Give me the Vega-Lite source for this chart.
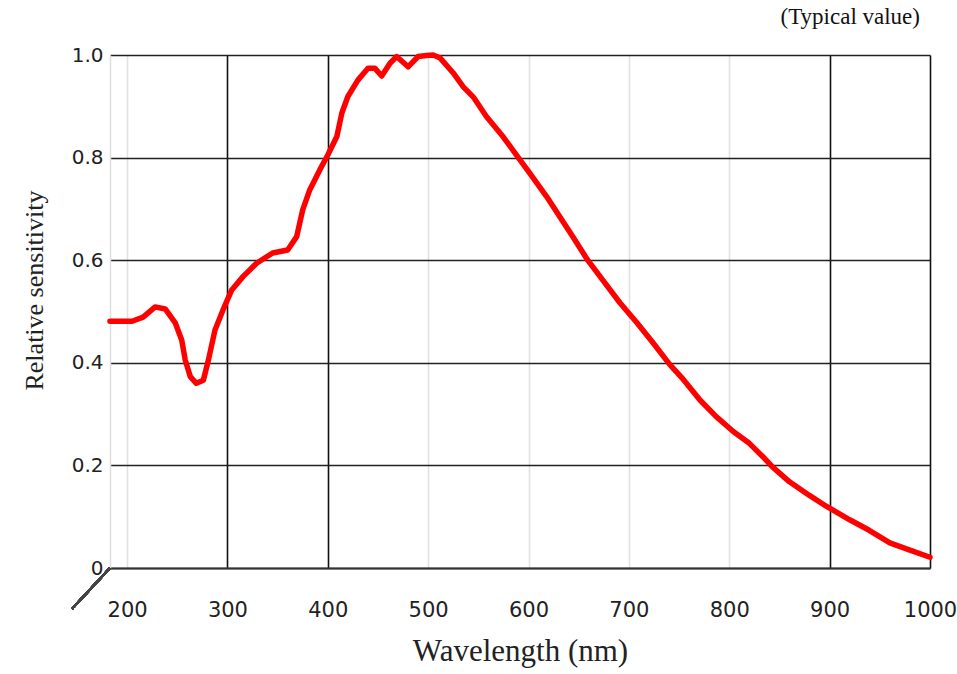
{
  "$schema": "https://vega.github.io/schema/vega-lite/v6.json",
  "width": 820,
  "height": 513,
  "autosize": {"type": "none"},
  "padding": {"left": 110, "top": 55, "right": 27, "bottom": 106},
  "background": "white",
  "config": {"view": {"stroke": null}},
  "title": {"text": "(Typical value)", "anchor": "end", "frame": "group", "font": "Liberation Serif", "fontSize": 23, "fontWeight": "normal", "color": "#111", "offset": 16, "dx": -10},
  "data": {"values": [
    {"wavelength": 183, "sensitivity": 0.481},
    {"wavelength": 195, "sensitivity": 0.481},
    {"wavelength": 205, "sensitivity": 0.481},
    {"wavelength": 216, "sensitivity": 0.489},
    {"wavelength": 228, "sensitivity": 0.509},
    {"wavelength": 238, "sensitivity": 0.505},
    {"wavelength": 248, "sensitivity": 0.478},
    {"wavelength": 254.5, "sensitivity": 0.444},
    {"wavelength": 258, "sensitivity": 0.405},
    {"wavelength": 263, "sensitivity": 0.373},
    {"wavelength": 269, "sensitivity": 0.36},
    {"wavelength": 276, "sensitivity": 0.366},
    {"wavelength": 281, "sensitivity": 0.405},
    {"wavelength": 287.6, "sensitivity": 0.464},
    {"wavelength": 295.6, "sensitivity": 0.503},
    {"wavelength": 304.3, "sensitivity": 0.542},
    {"wavelength": 315.5, "sensitivity": 0.568},
    {"wavelength": 329, "sensitivity": 0.594},
    {"wavelength": 345, "sensitivity": 0.614},
    {"wavelength": 360, "sensitivity": 0.62},
    {"wavelength": 369, "sensitivity": 0.646},
    {"wavelength": 375, "sensitivity": 0.698},
    {"wavelength": 382, "sensitivity": 0.737},
    {"wavelength": 392, "sensitivity": 0.776},
    {"wavelength": 400, "sensitivity": 0.805},
    {"wavelength": 409, "sensitivity": 0.841},
    {"wavelength": 414, "sensitivity": 0.887},
    {"wavelength": 420, "sensitivity": 0.919},
    {"wavelength": 430, "sensitivity": 0.951},
    {"wavelength": 440, "sensitivity": 0.974},
    {"wavelength": 447, "sensitivity": 0.974},
    {"wavelength": 453.7, "sensitivity": 0.959},
    {"wavelength": 462, "sensitivity": 0.984},
    {"wavelength": 468.6, "sensitivity": 0.997},
    {"wavelength": 480, "sensitivity": 0.977},
    {"wavelength": 490, "sensitivity": 0.997},
    {"wavelength": 498.5, "sensitivity": 0.999},
    {"wavelength": 505, "sensitivity": 1.0},
    {"wavelength": 512, "sensitivity": 0.994},
    {"wavelength": 525, "sensitivity": 0.965},
    {"wavelength": 535, "sensitivity": 0.938},
    {"wavelength": 545, "sensitivity": 0.918},
    {"wavelength": 558, "sensitivity": 0.88},
    {"wavelength": 574.5, "sensitivity": 0.841},
    {"wavelength": 588, "sensitivity": 0.805},
    {"wavelength": 601, "sensitivity": 0.77},
    {"wavelength": 618, "sensitivity": 0.724},
    {"wavelength": 631, "sensitivity": 0.685},
    {"wavelength": 644, "sensitivity": 0.646},
    {"wavelength": 659, "sensitivity": 0.6},
    {"wavelength": 674, "sensitivity": 0.561},
    {"wavelength": 691, "sensitivity": 0.517},
    {"wavelength": 708, "sensitivity": 0.478},
    {"wavelength": 724, "sensitivity": 0.439},
    {"wavelength": 741, "sensitivity": 0.396},
    {"wavelength": 754, "sensitivity": 0.368},
    {"wavelength": 771, "sensitivity": 0.327},
    {"wavelength": 787, "sensitivity": 0.295},
    {"wavelength": 804, "sensitivity": 0.266},
    {"wavelength": 820, "sensitivity": 0.243},
    {"wavelength": 833.5, "sensitivity": 0.217},
    {"wavelength": 843, "sensitivity": 0.197},
    {"wavelength": 860, "sensitivity": 0.168},
    {"wavelength": 879.5, "sensitivity": 0.142},
    {"wavelength": 897, "sensitivity": 0.12},
    {"wavelength": 920, "sensitivity": 0.094},
    {"wavelength": 939, "sensitivity": 0.074},
    {"wavelength": 960, "sensitivity": 0.049},
    {"wavelength": 980, "sensitivity": 0.035},
    {"wavelength": 1000, "sensitivity": 0.021}
  ]},
  "layer": [
    {
      "mark": {"type": "line", "color": "#ff0000", "strokeWidth": 5.5, "strokeJoin": "round", "strokeCap": "round"},
      "encoding": {
        "x": {
          "field": "wavelength", "type": "quantitative",
          "scale": {"domain": [183, 1000], "nice": false, "zero": false},
          "axis": {
            "values": [200, 300, 400, 500, 600, 700, 800, 900, 1000],
            "format": "d",
            "title": "Wavelength (nm)",
            "titleFont": "Liberation Serif", "titleFontSize": 31, "titleFontWeight": "normal", "titleColor": "#222", "titlePadding": 16,
            "labelFont": "DejaVu Sans", "labelFontSize": 21, "labelColor": "#222", "labelPadding": 31, "labelFlush": false,
            "ticks": false,
            "domainColor": "#333", "domainWidth": 2,
            "grid": true,
            "gridColor": {"condition": {"test": "datum.value === 300 || datum.value === 400 || datum.value === 900 || datum.value === 1000", "value": "#111"}, "value": "#e2e2e2"},
            "gridWidth": 1.6, "gridOpacity": 1
          }
        },
        "y": {
          "field": "sensitivity", "type": "quantitative",
          "scale": {"domain": [0, 1], "nice": false},
          "axis": {
            "values": [0, 0.2, 0.4, 0.6, 0.8, 1],
            "labelExpr": "datum.value === 0 ? '0' : format(datum.value, '.1f')",
            "title": "Relative sensitivity",
            "titleFont": "Liberation Serif", "titleFontSize": 26, "titleFontWeight": "normal", "titleColor": "#222", "titlePadding": 24, "titleY": 235,
            "labelFont": "DejaVu Sans", "labelFontSize": 20, "labelColor": "#222", "labelPadding": 7,
            "ticks": false,
            "domainColor": "#dddddd", "domainWidth": 1.5,
            "grid": true, "gridColor": "#222", "gridWidth": 1.6, "gridOpacity": 1
          }
        }
      }
    },
    {
      "mark": {"type": "rule", "color": "#444", "strokeWidth": 2},
      "encoding": {
        "x": {"datum": 145},
        "x2": {"datum": 183},
        "y": {"datum": -0.08},
        "y2": {"datum": 0}
      }
    }
  ]
}
